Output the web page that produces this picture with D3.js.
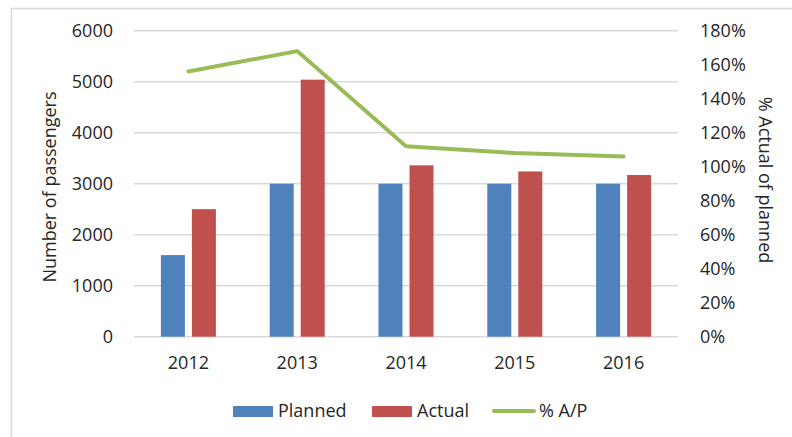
<!DOCTYPE html>
<html>
<head>
<meta charset="utf-8">
<script src="https://cdn.jsdelivr.net/npm/d3@7"></script>
<style>
  body { margin: 0; background: #fff; }
  text { font-family: "Open Sans", sans-serif; fill: #262626; }
</style>
</head>
<body>
<div id="chart-area"></div>
<script>

// Chart data
var years = ["2012", "2013", "2014", "2015", "2016"];
var planned = [1600, 3000, 3000, 3000, 3000];
var actual = [2500, 5040, 3360, 3240, 3170];
var pctAP = [156, 168, 112, 108, 106];
var leftTicks = [0, 1000, 2000, 3000, 4000, 5000, 6000];
var rightTicks = [0, 20, 40, 60, 80, 100, 120, 140, 160, 180];

var width = 792,
    height = 437;

var fontSize = "18px";

var svg = d3.select("#chart-area").append("svg")
    .attr("width", width)
    .attr("height", height);

// outer frame
svg.append("rect")
    .attr("x", 11.5).attr("y", 8.5)
    .attr("width", 800).attr("height", 450)
    .attr("fill", "none")
    .attr("stroke", "#d9d9d9")
    .attr("stroke-width", 1.5);

var plotLeft = 134, plotRight = 678,
    plotTop = 30.7, plotBottom = 336.7;

var x = d3.scaleBand()
    .domain(years)
    .range([plotLeft, plotRight]);

var yLeft = d3.scaleLinear()
    .domain([0, 6000])
    .range([plotBottom, plotTop]);

var yRight = d3.scaleLinear()
    .domain([0, 180])
    .range([plotBottom, plotTop]);

// gridlines
svg.append("g").selectAll("line")
    .data(leftTicks)
    .enter()
    .append("line")
    .attr("x1", plotLeft).attr("x2", plotRight)
    .attr("y1", function(d) { return yLeft(d); })
    .attr("y2", function(d) { return yLeft(d); })
    .attr("stroke", "#d9d9d9")
    .attr("stroke-width", 1.5);

// left axis
var leftAxis = d3.axisLeft(yLeft)
    .tickValues(leftTicks)
    .tickSize(0)
    .tickPadding(21)
    .tickFormat(d3.format("d"));

var gl = svg.append("g")
    .attr("transform", "translate(" + plotLeft + ",0)")
    .call(leftAxis);
gl.select(".domain").remove();
gl.selectAll("text").style("font-size", fontSize).style("font-family", "Open Sans").attr("fill", "#262626");

// right axis
var rightAxis = d3.axisRight(yRight)
    .tickValues(rightTicks)
    .tickSize(0)
    .tickPadding(22)
    .tickFormat(function(d) { return d + "%"; });

var gr = svg.append("g")
    .attr("transform", "translate(" + plotRight + ",0)")
    .call(rightAxis);
gr.select(".domain").remove();
gr.selectAll("text").style("font-size", fontSize).style("font-family", "Open Sans").attr("fill", "#262626");

// bottom axis
var bottomAxis = d3.axisBottom(x).tickSize(0).tickPadding(20);
var gb = svg.append("g")
    .attr("transform", "translate(0," + plotBottom + ")")
    .call(bottomAxis);
gb.select(".domain").remove();
gb.selectAll("text").style("font-size", fontSize).style("font-family", "Open Sans").attr("fill", "#262626");

// bars
var barW = 24, gap = 7;

svg.append("g").selectAll("rect")
    .data(planned)
    .enter()
    .append("rect")
    .attr("x", function(d, i) { return x(years[i]) + x.bandwidth() / 2 - gap / 2 - barW; })
    .attr("y", function(d) { return yLeft(d); })
    .attr("width", barW)
    .attr("height", function(d) { return plotBottom - yLeft(d); })
    .attr("fill", "#4f81bd");

svg.append("g").selectAll("rect")
    .data(actual)
    .enter()
    .append("rect")
    .attr("x", function(d, i) { return x(years[i]) + x.bandwidth() / 2 + gap / 2; })
    .attr("y", function(d) { return yLeft(d); })
    .attr("width", barW)
    .attr("height", function(d) { return plotBottom - yLeft(d); })
    .attr("fill", "#c0504d");

// % line
var line = d3.line()
    .x(function(d, i) { return x(years[i]) + x.bandwidth() / 2; })
    .y(function(d) { return yRight(d); });

svg.append("path")
    .datum(pctAP)
    .attr("d", line)
    .attr("fill", "none")
    .attr("stroke", "#9bbb59")
    .attr("stroke-width", 4)
    .attr("stroke-linecap", "round")
    .attr("stroke-linejoin", "round");

// axis titles
svg.append("text")
    .attr("transform", "translate(56,187) rotate(-90)")
    .attr("text-anchor", "middle")
    .style("font-size", fontSize)
    .text("Number of passengers");

svg.append("text")
    .attr("transform", "translate(759,180) rotate(90)")
    .attr("text-anchor", "middle")
    .style("font-size", fontSize)
    .text("% Actual of planned");

// legend
var legend = [
  { name: "Planned", color: "#4f81bd", type: "rect", x: 233 },
  { name: "Actual", color: "#c0504d", type: "rect", x: 372 },
  { name: "% A/P", color: "#9bbb59", type: "line", x: 492 }
];

var lg = svg.append("g").selectAll("g")
    .data(legend)
    .enter()
    .append("g")
    .attr("transform", function(d) { return "translate(" + d.x + ",411)"; });

lg.filter(function(d) { return d.type === "rect"; })
    .append("rect")
    .attr("x", 0).attr("y", -5)
    .attr("width", 40).attr("height", 11)
    .attr("fill", function(d) { return d.color; });

lg.filter(function(d) { return d.type === "line"; })
    .append("line")
    .attr("x1", 2).attr("x2", 42)
    .attr("y1", 0).attr("y2", 0)
    .attr("stroke", function(d) { return d.color; })
    .attr("stroke-width", 4)
    .attr("stroke-linecap", "round");

lg.append("text")
    .attr("x", function(d) { return d.type === "rect" ? 45 : 47; })
    .attr("y", 0)
    .attr("dy", "0.35em")
    .style("font-size", fontSize)
    .text(function(d) { return d.name; });

</script>
</body>
</html>
